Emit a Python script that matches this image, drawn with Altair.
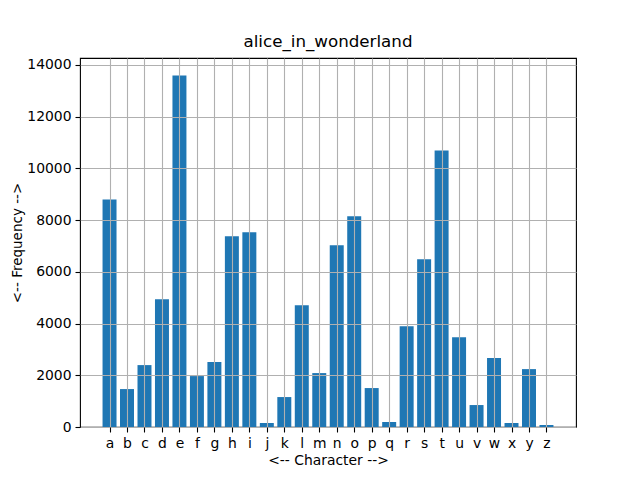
import altair as alt
import pandas as pd

letters = list("abcdefghijklmnopqrstuvwxyz")
freqs = [8800, 1467, 2394, 4942, 13591, 1969, 2510, 7375, 7529, 154, 1158, 4710, 2085,
         7027, 8147, 1506, 193, 3900, 6486, 10695, 3475, 849, 2664, 154, 2239, 77]

df = pd.DataFrame({"char": letters, "freq": freqs, "idx": list(range(len(letters)))})

FONT = "DejaVu Sans"
label_expr = "[" + ",".join("'%s'" % c for c in letters) + "][datum.value]"

chart = alt.Chart(df).transform_calculate(
    x0="datum.idx - 0.4", x1="datum.idx + 0.4"
).mark_bar(color="#1f77b4").encode(
    x=alt.X("x0:Q", title="<-- Character -->",
            scale=alt.Scale(domain=[-1.69, 26.69], nice=False, zero=False),
            axis=alt.Axis(values=list(range(26)), labelExpr=label_expr,
                          labelAngle=0, grid=True, zindex=1,
                          gridColor="#b0b0b0", gridWidth=1.1,
                          tickColor="black", tickSize=5, tickWidth=1.1,
                          domain=False, labelPadding=4, labelColor="black",
                          labelFontSize=13.9, titleFontSize=13.9, titleFontWeight="normal",
                          titleColor="black", titlePadding=4, labelFont=FONT, titleFont=FONT,
                          labelFlush=False)),
    x2="x1:Q",
    y=alt.Y("freq:Q", title="<-- Frequency -->",
            scale=alt.Scale(domain=[0, 14270], nice=False, zero=True),
            axis=alt.Axis(values=list(range(0, 14001, 2000)), format="d", grid=True, zindex=1,
                          gridColor="#b0b0b0", gridWidth=1.1,
                          tickColor="black", tickSize=5, tickWidth=1.1,
                          domain=False, labelPadding=4, labelColor="black",
                          labelFontSize=13.9, titleFontSize=13.5, titleFontWeight="normal",
                          titleColor="black", titlePadding=2, labelFont=FONT, titleFont=FONT)),
    y2=alt.datum(0),
).properties(
    width=496, height=369,
    title=alt.TitleParams("alice_in_wonderland", font=FONT, fontSize=16.7,
                          fontWeight="normal", color="black", offset=7),
    autosize=alt.AutoSizeParams(type="none"),
    padding={"left": 72, "top": 50, "right": 56, "bottom": 45},
).configure_view(stroke="black", strokeWidth=1.1)

chart.save("out.html", embed_options={"renderer": "svg", "actions": False})
